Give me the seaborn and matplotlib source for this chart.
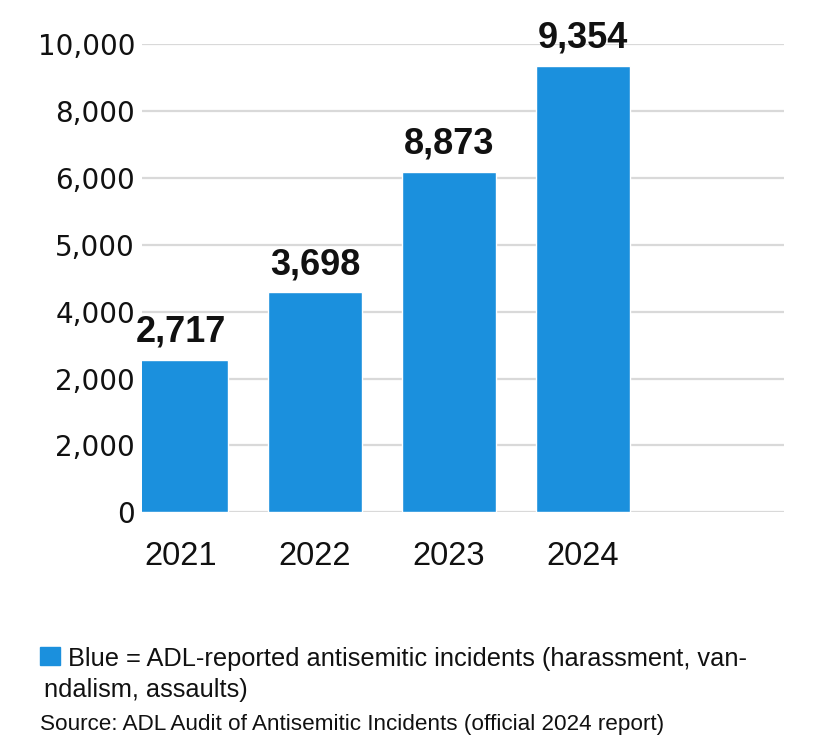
import matplotlib
matplotlib.use('Agg')
import matplotlib.pyplot as plt
import pandas as pd
import seaborn as sns

# data (bar heights are in grid steps, as drawn)
years = ['2021', '2022', '2023', '2024']
bar_heights = [2.28, 3.29, 5.09, 6.68]
value_labels = ['2,717', '3,698', '8,873', '9,354']
ytick_labels = ['0', '2,000', '2,000', '4,000', '5,000', '6,000', '8,000', '10,000']

blue = '#1b90dd'

df = pd.DataFrame({'year': years, 'height': bar_heights})

sns.set_theme(style='white')
plt.rcParams['font.family'] = ['DejaVu Sans']

fig = plt.figure(figsize=(8.32, 7.56), dpi=100)
ax = fig.add_axes([0.1707, 0.3224, 0.7716, 0.619])

sns.barplot(data=df, x='year', y='height', color=blue, width=0.7,
            saturation=1, ax=ax, zorder=2)

ax.set_ylim(0, 7)
ax.set_xlim(-0.29, 4.5)
ax.set_yticks(range(len(ytick_labels)))
ax.set_yticklabels(ytick_labels, fontsize=20, color='#111111')
ax.tick_params(axis='y', length=0, pad=5)
ax.tick_params(axis='x', length=0, pad=21)
for lab in ax.get_xticklabels():
    lab.set_fontfamily('Liberation Sans')
    lab.set_fontsize(23.5)
    lab.set_color('#111111')

ax.yaxis.grid(True, color='#d9d9d9', linewidth=1.6)
ax.set_axisbelow(True)
for s in ax.spines.values():
    s.set_visible(False)
ax.set_xlabel('')
ax.set_ylabel('')

for i, (h, txt) in enumerate(zip(bar_heights, value_labels)):
    ax.annotate(txt, (i, h), xytext=(0, 13), textcoords='offset points',
                ha='center', va='baseline', fontsize=26, fontweight='bold',
                family='Liberation Sans', color='#111111', clip_on=False)

# legend-like caption below the chart
fig.patches.append(plt.Rectangle((40 / 832, 1 - 665 / 756), 20 / 832, 18 / 756,
                                 transform=fig.transFigure, color=blue))
fig.text(68 / 832, 1 - 666 / 756,
         'Blue = ADL-reported antisemitic incidents (harassment, van-',
         fontsize=18.3, family='Liberation Sans', color='#111111', va='baseline')
fig.text(44 / 832, 1 - 697 / 756, 'ndalism, assaults)',
         fontsize=18.3, family='Liberation Sans', color='#111111', va='baseline')
fig.text(40 / 832, 1 - 730 / 756,
         'Source: ADL Audit of Antisemitic Incidents (official 2024 report)',
         fontsize=16.2, family='Liberation Sans', color='#111111', va='baseline')

fig.savefig('out.png', dpi=100, facecolor='white')
